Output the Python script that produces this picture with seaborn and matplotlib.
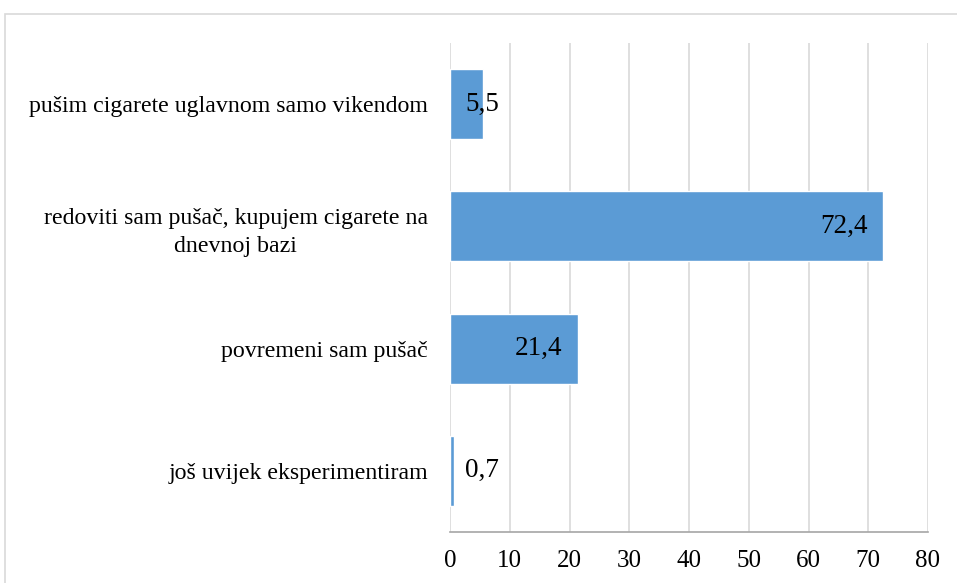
import pandas as pd
import matplotlib.pyplot as plt
import seaborn as sns
from matplotlib.patches import Rectangle

# Data (top to bottom as in the chart)
categories = [
    "pušim cigarete uglavnom samo vikendom",
    "redoviti sam pušač, kupujem cigarete na\ndnevnoj bazi",
    "povremeni sam pušač",
    "još uvijek eksperimentiram",
]
values = [5.5, 72.4, 21.4, 0.7]
value_labels = ["5,5", "72,4", "21,4", "0,7"]
x_ticks = [0, 10, 20, 30, 40, 50, 60, 70, 80]


def plot_bars():
    df = pd.DataFrame({"Category": categories, "Value": values})

    sns.set_style("white")
    plt.rcParams["font.family"] = ["Liberation Serif", "DejaVu Serif"]

    fig = plt.figure(figsize=(9.57, 5.83), dpi=100)
    ax = fig.add_axes([450 / 957, 1 - 532 / 583, 478 / 957, 489 / 583])

    sns.barplot(data=df, x="Value", y="Category", orient="h", color="#5B9BD5",
                saturation=1, width=0.574, ax=ax)

    ax.set_xlim(0, 80)
    ax.set_xticks(x_ticks)
    ax.set_xticklabels([str(t) for t in x_ticks])
    ax.set_xlabel("")
    ax.set_ylabel("")
    ax.grid(axis="x", color="#D9D9D9", linewidth=1.2)
    ax.set_axisbelow(True)

    for side in ["top", "right", "left"]:
        ax.spines[side].set_visible(False)
    ax.spines["bottom"].set_color("#A6A6A6")
    ax.spines["bottom"].set_linewidth(1.2)

    ax.tick_params(axis="x", length=0, pad=13, labelsize=18, colors="black")
    ax.tick_params(axis="y", length=0, pad=16, labelsize=17.2, colors="black")
    for lab in ax.get_yticklabels():
        lab.set_multialignment("center")
        lab.set_linespacing(1.45)

    # value labels: inside end if they fit, else near the axis
    px_per_unit = 478 / 80
    for i, (v, txt) in enumerate(zip(values, value_labels)):
        if v * px_per_unit > 60:
            ax.annotate(txt, (v, i), xytext=(-11, 0), textcoords="offset points",
                        ha="right", va="center", fontsize=19.5, color="black")
        else:
            ax.annotate(txt, (0, i), xytext=(11, 0), textcoords="offset points",
                        ha="left", va="center", fontsize=19.5, color="black")

    # chart area border
    fig.patches.append(Rectangle((5 / 957, -0.1), 1.2, 1.1 - 14 / 583,
                                 transform=fig.transFigure, fill=False,
                                 edgecolor="#D9D9D9", linewidth=1.2))

    fig.savefig("out.png", dpi=100)


def main():
    plot_bars()


if __name__ == "__main__":
    main()
